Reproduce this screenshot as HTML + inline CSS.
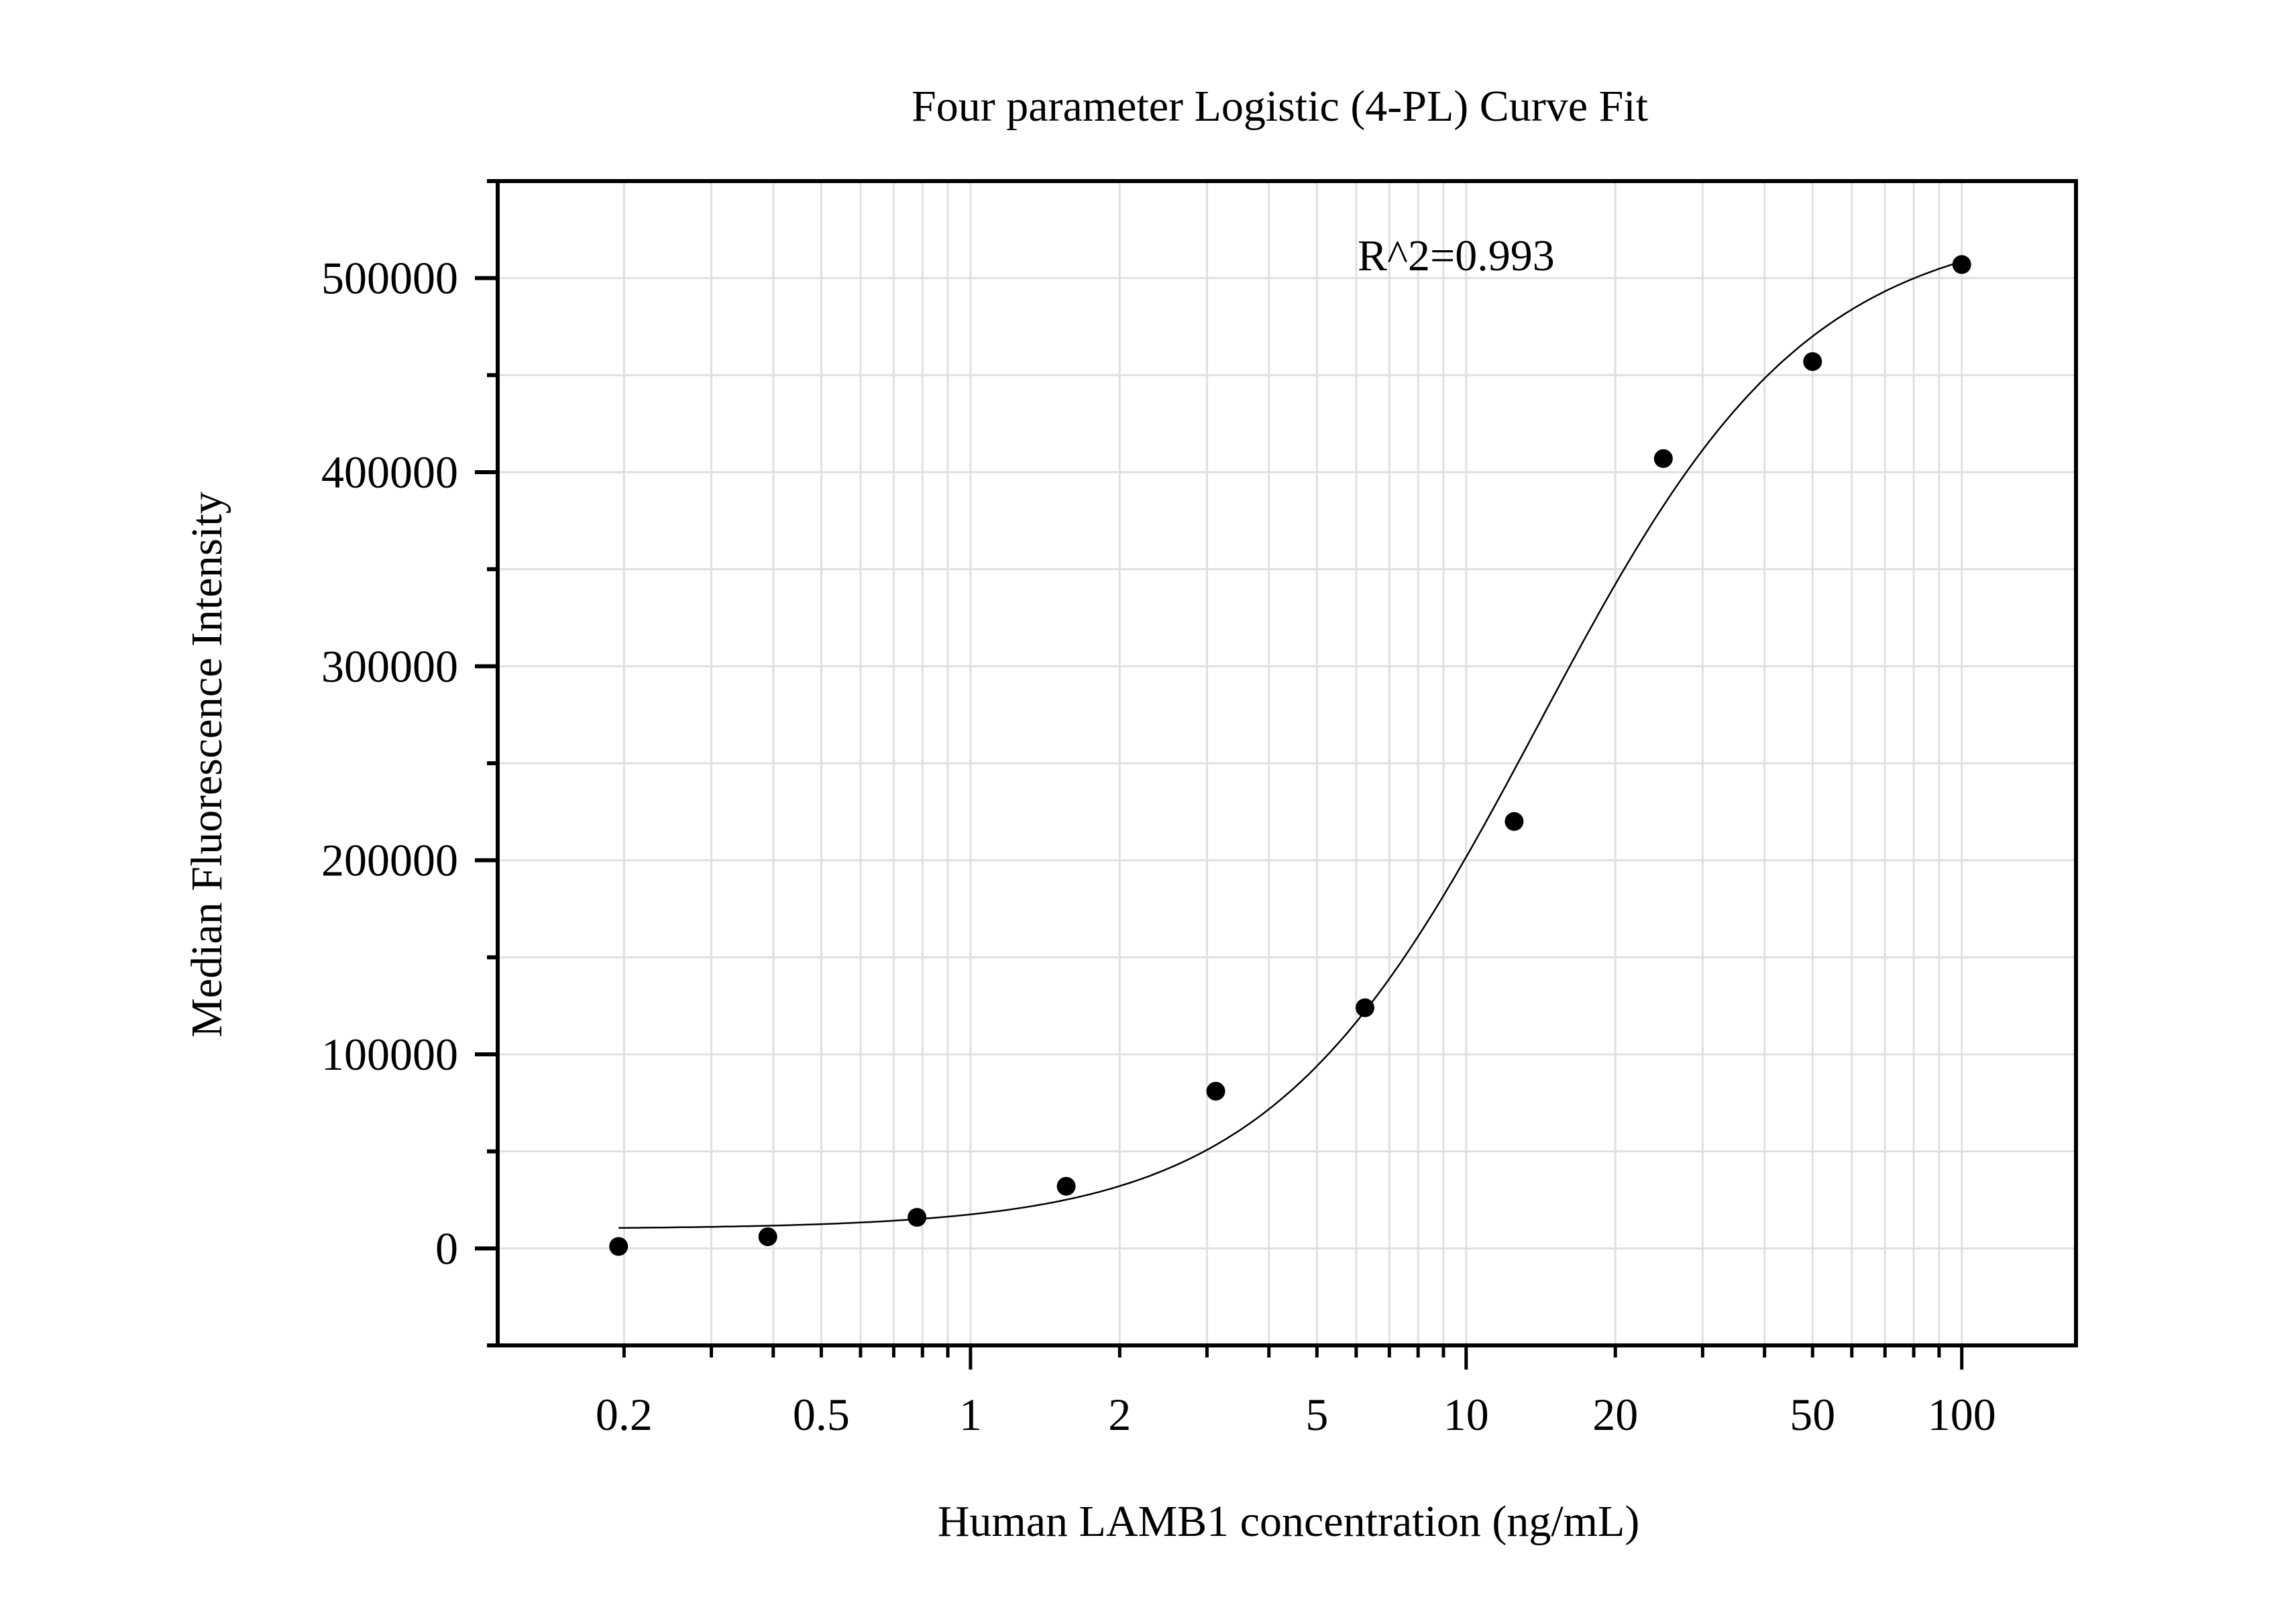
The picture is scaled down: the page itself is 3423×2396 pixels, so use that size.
<!DOCTYPE html>
<html><head><meta charset="utf-8"><style>
html,body{margin:0;padding:0;background:#fff}
svg text{font-family:"Liberation Serif",serif;fill:#000}
</style></head><body>
<svg id="chart" width="3423" height="2391" viewBox="0 0 3423 2391" xmlns="http://www.w3.org/2000/svg">
<g id="grid"></g>
<g id="curve"></g>
<g id="points"></g>
<g id="axes"></g>
<text x="1908" y="180" font-size="66" text-anchor="middle">Four parameter Logistic (4-PL) Curve Fit</text>
<text x="2024" y="403" font-size="66">R^2=0.993</text>
<text x="0" y="0" font-size="66" text-anchor="middle" transform="translate(330,1140) rotate(-90)">Median Fluorescence Intensity</text>
<text x="1921" y="2290" font-size="66" text-anchor="middle">Human LAMB1 concentration (ng/mL)</text>
</svg>
<script>
const xValues=[0.195,0.39,0.78,1.56,3.125,6.25,12.5,25,50,100];
const yValues=[1000,6000,16000,32000,81000,124000,220000,407000,457000,507000];
const xTickLabels=["0.2","0.5","1","2","5","10","20","50","100"];
const xTickValues=[0.2,0.5,1,2,5,10,20,50,100];
const yTickValues=[0,100000,200000,300000,400000,500000];
const yTickLabels=["0","100000","200000","300000","400000","500000"];
const fitParams=[10000,1.6,14,530000]; // A,B,C,D

const L=742,R=3095,T=270,B=2006;
const xMin=Math.log10(0.1112),xMax=Math.log10(170);
const yMin=-50000,yMax=550000;
const sx=v=>L+(Math.log10(v)-xMin)/(xMax-xMin)*(R-L);
const sy=v=>B-(v-yMin)/(yMax-yMin)*(B-T);
const NS="http://www.w3.org/2000/svg";
function mk(tag,attrs,parent){const e=document.createElementNS(NS,tag);for(const k in attrs)e.setAttribute(k,attrs[k]);parent.appendChild(e);return e;}
const grid=document.getElementById('grid'),axes=document.getElementById('axes');
const minorX=[];
for(const d of [0.1,1,10,100]){for(let m=1;m<10;m++){const v=d*m;if(v>0.11&&v<=100.0001)minorX.push(v);}}
minorX.forEach(v=>{
 const x=sx(v);
 const g=mk('line',{x1:x,x2:x,y1:T,y2:B,stroke:'#e0e0e0','stroke-width':3},grid);
 
 
 const major=[1,10,100].some(m=>Math.abs(v-m)<1e-9);
 const t=mk('line',{x1:x,x2:x,y1:B,y2:B+(major?36:18),stroke:'#000','stroke-width':5},axes);
 
 
});
for(let v=0;v<=500000;v+=50000){
 const y=sy(v);
 const g=mk('line',{x1:L,x2:R,y1:y,y2:y,stroke:'#e0e0e0','stroke-width':3},grid);
 
 
}
for(let v=-50000;v<=550000;v+=50000){
 const y=sy(v);const major=v%100000===0;
 const t=mk('line',{x1:L-(major?34:16),x2:L,y1:y,y2:y,stroke:'#000','stroke-width':6},axes);
 
 
}
xTickValues.forEach((v,i)=>{
 const t=mk('text',{x:sx(v),y:2132,'font-size':68,'text-anchor':'middle'},axes);
 t.textContent=xTickLabels[i];
 
 
});
yTickValues.forEach((v,i)=>{
 const t=mk('text',{x:683,y:sy(v)+23,'font-size':68,'text-anchor':'end'},axes);
 t.textContent=yTickLabels[i];
 
 
});
const frame=mk('rect',{x:L,y:T,width:R-L,height:B-T,fill:'none',stroke:'#000','stroke-width':6},axes);


const [A,Bp,C,D]=fitParams;
let d='';
const n=300,lo=Math.log10(xValues[0]),hi=Math.log10(xValues[xValues.length-1]);
for(let i=0;i<=n;i++){const x=Math.pow(10,lo+(hi-lo)*i/n);const y=D+(A-D)/(1+Math.pow(x/C,Bp));d+=(i?'L':'M')+sx(x).toFixed(1)+','+sy(y).toFixed(1);}
const cp=mk('path',{d:d,fill:'none',stroke:'#000','stroke-width':2.5},document.getElementById('curve'));


const pts=document.getElementById('points');
xValues.forEach((v,i)=>{
 const c=mk('circle',{cx:sx(v),cy:sy(yValues[i]),r:14,fill:'#000'},pts);
 
 
});
</script>
</body></html>
